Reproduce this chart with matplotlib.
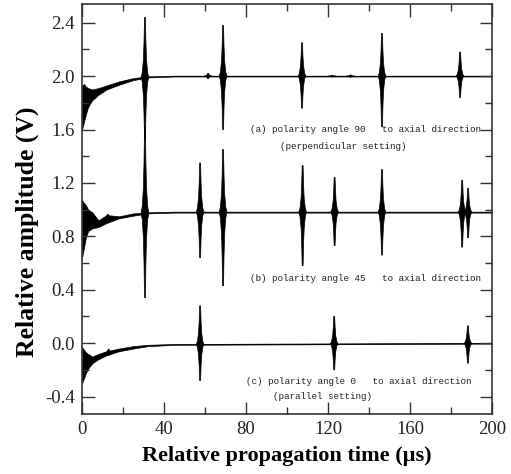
import numpy as np
import matplotlib
matplotlib.use("Agg")
import matplotlib.pyplot as plt
from matplotlib.ticker import MultipleLocator

# Slowly settling baseline of each trace: time (us), upper and lower edge (V)
base_t = [0, 1, 2, 3, 5, 8, 12, 18, 25, 32, 45, 200]
a_upper = [1.93, 1.94, 1.92, 1.91, 1.90, 1.91, 1.93, 1.96, 1.985, 1.998, 2.003, 2.003]
a_lower = [1.60, 1.66, 1.72, 1.77, 1.82, 1.86, 1.90, 1.935, 1.97, 1.99, 1.997, 1.997]
b_upper = [1.07, 1.05, 1.03, 1.00, 0.98, 0.92, 0.96, 0.95, 0.972, 0.98, 0.985, 0.985]
b_lower = [0.64, 0.72, 0.80, 0.84, 0.86, 0.87, 0.90, 0.935, 0.955, 0.972, 0.978, 0.978]
c_upper = [-0.03, -0.05, -0.07, -0.08, -0.10, -0.08, -0.06, -0.04, -0.022, -0.012, -0.006, 0.003]
c_lower = [-0.30, -0.26, -0.22, -0.19, -0.15, -0.12, -0.09, -0.06, -0.04, -0.022, -0.012, -0.003]

# Echo bursts: centre time (us), maximum and minimum (V)
a_burst_t = [30.7, 61.5, 68.8, 107.3, 122.0, 131.0, 146.3, 184.4]
a_burst_top = [2.44, 2.02, 2.38, 2.25, 2.006, 2.008, 2.32, 2.18]
a_burst_bot = [1.52, 1.98, 1.60, 1.76, 1.994, 1.992, 1.62, 1.84]

b_burst_t = [12.6, 30.7, 57.6, 68.8, 107.6, 123.2, 146.3, 185.4, 188.3]
b_burst_top = [0.965, 1.62, 1.35, 1.45, 1.33, 1.24, 1.30, 1.22, 1.16]
b_burst_bot = [0.905, 0.34, 0.64, 0.43, 0.58, 0.73, 0.66, 0.72, 0.79]

c_burst_t = [13.0, 57.6, 123.0, 188.2]
c_burst_top = [-0.045, 0.28, 0.20, 0.13]
c_burst_bot = [-0.09, -0.28, -0.20, -0.15]

labels = [
    ("(a) polarity angle 90   to axial direction", 138.5, 1.60),
    ("(perpendicular setting)", 127.5, 1.475),
    ("(b) polarity angle 45   to axial direction", 138.5, 0.487),
    ("(c) polarity angle 0   to axial direction", 135.0, -0.29),
    ("(parallel setting)", 117.5, -0.40),
]


def draw_trace(ax, upper, lower, centers, tops, bots):
    ax.fill_between(base_t, lower, upper, color="black", lw=0.5)
    mid = (np.array(upper) + np.array(lower)) / 2
    # spindle shaped envelope: wide near the baseline, thin at the tips
    frac = np.array([0.0, 0.08, 0.3, 0.6, 1.0])
    half = np.array([1.9, 1.3, 0.75, 0.45, 0.22])
    for c, top, bot in zip(centers, tops, bots):
        level = np.interp(c, base_t, mid)
        up = level + frac * (top - level)
        dn = level + frac * (bot - level)
        xs = np.concatenate([c - half, (c + half)[::-1], c + half, (c - half)[::-1]])
        ys = np.concatenate([up, up[::-1], dn, dn[::-1]])
        ax.fill(xs, ys, color="black", lw=0.5)


fig = plt.figure(figsize=(5.11, 4.74), dpi=100)
ax = fig.add_axes([0.1605, 0.1266, 0.8025, 0.8650])

draw_trace(ax, a_upper, a_lower, a_burst_t, a_burst_top, a_burst_bot)
draw_trace(ax, b_upper, b_lower, b_burst_t, b_burst_top, b_burst_bot)
draw_trace(ax, c_upper, c_lower, c_burst_t, c_burst_top, c_burst_bot)

for text, x, y in labels:
    ax.text(x, y, text, ha="center", va="center", fontsize=6.7,
            family="Liberation Mono", color="#222222")

ax.set_xlim(0, 200)
ax.set_ylim(-0.53, 2.54)
ax.xaxis.set_minor_locator(MultipleLocator(20))
ax.yaxis.set_minor_locator(MultipleLocator(0.2))
ax.set_xticks([0, 40, 80, 120, 160, 200])
ax.set_xticklabels(["0", "40", "80", "120", "160", "200"])
ax.set_yticks([-0.4, 0.0, 0.4, 0.8, 1.2, 1.6, 2.0, 2.4])
ax.set_yticklabels(["-0.4", "0.0", "0.4", "0.8", "1.2", "1.6", "2.0", "2.4"])
ax.tick_params(which="both", direction="in", top=True, right=True, width=1.0,
               color="#333333")
ax.tick_params(which="major", length=9, labelsize=13.5, pad=5)
ax.tick_params(which="minor", length=5)
for lab in ax.get_xticklabels() + ax.get_yticklabels():
    lab.set_family("Liberation Serif")
    lab.set_color("#222222")
for sp in ax.spines.values():
    sp.set_linewidth(1.2)
    sp.set_color("#333333")

ax.set_xlabel("Relative propagation time (\u00b5s)", family="Liberation Serif",
              fontweight="bold", fontsize=16, labelpad=6)
fig.text(27 / 511, 1 - 232 / 474, "Relative amplitude (V)", rotation=90,
         ha="center", va="center", family="Liberation Serif",
         fontweight="bold", fontsize=18.5)

fig.savefig("out.png", dpi=100)
